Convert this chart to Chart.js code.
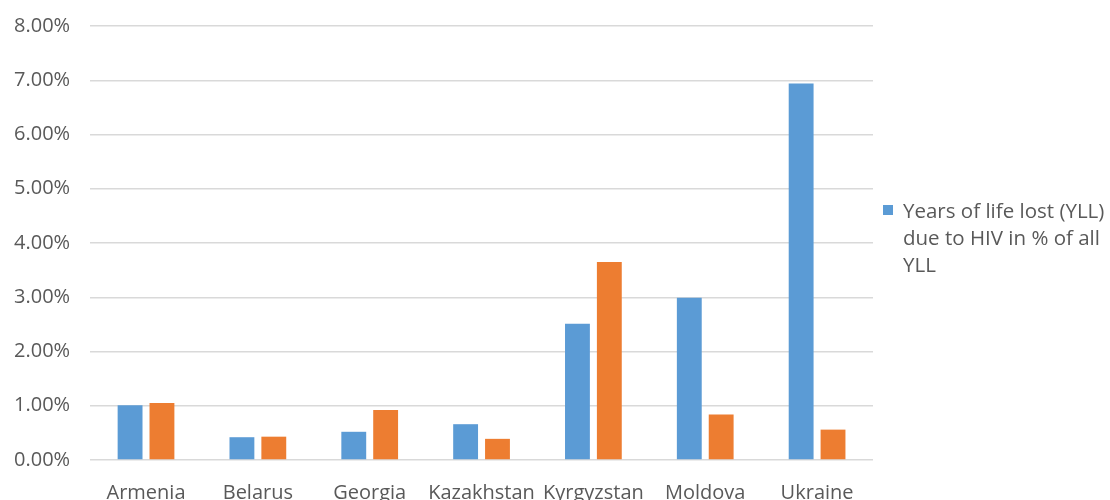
<!DOCTYPE html>
<html>
<head>
<meta charset="utf-8">
<script src="https://cdn.jsdelivr.net/npm/chart.js@4/dist/chart.umd.min.js"></script>
<style>
	html, body { margin: 0; padding: 0; background: #fff; }
	#wrap { width: 1110px; height: 500px; position: relative; }
</style>
</head>
<body>
<div id="wrap"><canvas id="yll-chart"></canvas></div>
<script>
const countries = ["Armenia", "Belarus", "Georgia", "Kazakhstan", "Kyrgyzstan", "Moldova", "Ukraine"];
const yllShare = [1.01, 0.42, 0.52, 0.66, 2.51, 2.99, 6.94];
const otherShare = [1.05, 0.43, 0.92, 0.39, 3.65, 0.84, 0.56];
const legendLines = ["Years of life lost (YLL)", "due to HIV in % of all", "YLL"];

const textColor = "#595959";
const fontFamily = "'Open Sans', 'Liberation Sans', sans-serif";

// legend drawn to the right of the plot, like the original
const sideLegend = {
	id: "sideLegend",
	afterDraw(chart) {
		const ctx = chart.ctx;
		const x = chart.chartArea.right + 10;
		const y = 205;
		ctx.save();
		ctx.fillStyle = "#5b9bd5";
		ctx.fillRect(x, y, 10, 10);
		ctx.fillStyle = textColor;
		ctx.font = "20.5px " + fontFamily;
		ctx.textBaseline = "middle";
		ctx.textAlign = "left";
		legendLines.forEach((line, i) => {
			ctx.fillText(line, x + 20, y + 7 + i * 27);
		});
		ctx.restore();
	}
};

Chart.defaults.font.family = fontFamily;
Chart.defaults.color = textColor;

new Chart(document.getElementById("yll-chart"), {
	type: "bar",
	data: {
		labels: countries,
		datasets: [
			{
				label: legendLines.join(" "),
				data: yllShare,
				backgroundColor: "#5b9bd5",
				categoryPercentage: 0.57,
				barPercentage: 0.78
			},
			{
				label: "",
				data: otherShare,
				backgroundColor: "#ed7d31",
				categoryPercentage: 0.57,
				barPercentage: 0.78
			}
		]
	},
	options: {
		responsive: true,
		maintainAspectRatio: false,
		animation: false,
		layout: {
			padding: { top: 0, right: 237, left: -6, bottom: -18 }
		},
		plugins: {
			legend: { display: false },
			tooltip: { enabled: false }
		},
		scales: {
			x: {
				grid: { display: false },
				border: { display: false },
				ticks: { font: { size: 20 }, padding: 13, color: textColor, maxRotation: 0, autoSkip: false }
			},
			y: {
				min: 0,
				max: 8,
				grid: { color: "#d9d9d9", lineWidth: 1.5, drawTicks: false },
				border: { display: false },
				ticks: {
					stepSize: 1,
					padding: 20,
					font: { size: 20, lineHeight: 0.6 },
					color: textColor,
					callback: v => v.toFixed(2) + "%"
				}
			}
		}
	},
	plugins: [sideLegend]
});
</script>
</body>
</html>
